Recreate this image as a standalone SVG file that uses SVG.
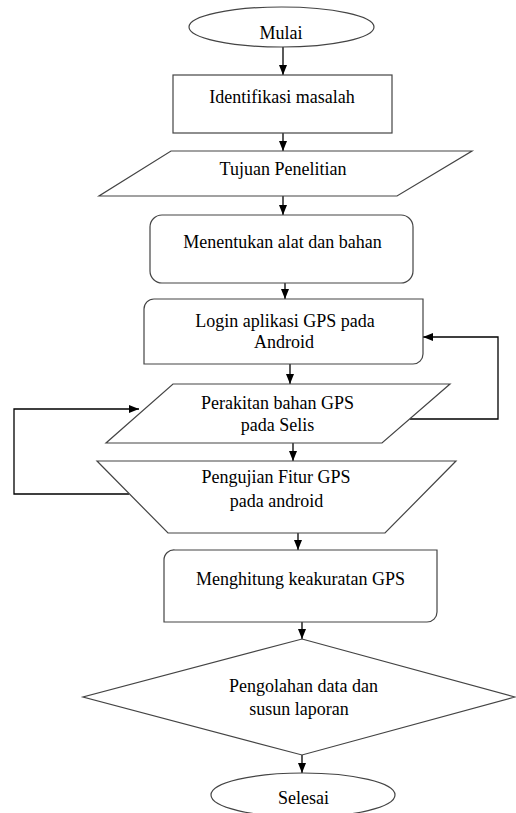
<svg xmlns="http://www.w3.org/2000/svg" width="516" height="813" viewBox="0 0 516 813">
<style>
.s{fill:#fff;stroke:#444;stroke-width:1.2}
.t{font-family:"Liberation Serif","Times New Roman",serif;font-size:18px;fill:#000;text-anchor:middle}
.c{fill:none;stroke:#000;stroke-width:1.3}
</style>
<defs>
<marker id="ah" markerUnits="userSpaceOnUse" markerWidth="10" markerHeight="10" viewBox="0 0 10 10" refX="10" refY="5" orient="auto">
<path d="M0,1 L10,5 L0,9 Z" fill="#000"/>
</marker>
</defs>
<rect width="516" height="813" fill="#fff"/>
<g id="connectors">
<line class="c" x1="283" y1="47" x2="283" y2="75" marker-end="url(#ah)"/>
<line class="c" x1="283" y1="133" x2="283" y2="151" marker-end="url(#ah)"/>
<line class="c" x1="283" y1="196" x2="283" y2="215" marker-end="url(#ah)"/>
<line class="c" x1="285" y1="283" x2="285" y2="299" marker-end="url(#ah)"/>
<line class="c" x1="290" y1="364" x2="290" y2="384" marker-end="url(#ah)"/>
<line class="c" x1="293" y1="443" x2="293" y2="461" marker-end="url(#ah)"/>
<line class="c" x1="298" y1="533" x2="298" y2="550" marker-end="url(#ah)"/>
<line class="c" x1="302" y1="622" x2="302" y2="639" marker-end="url(#ah)"/>
<line class="c" x1="302" y1="755" x2="302" y2="773" marker-end="url(#ah)"/>
<polyline class="c" points="410,419 498,419 498,337 423,337" marker-end="url(#ah)"/>
<polyline class="c" points="129,494 14,494 14,409 139,409" marker-end="url(#ah)"/>
</g>
<g id="mulai">
<ellipse class="s" cx="281.5" cy="27" rx="92.5" ry="20"/>
<text class="t" x="281" y="39">Mulai</text>
</g>
<g id="identifikasi">
<rect class="s" x="173" y="75" width="219" height="58"/>
<text class="t" x="282" y="103">Identifikasi masalah</text>
</g>
<g id="tujuan">
<polygon class="s" points="171,151 472,151 397,196 99,196"/>
<text class="t" x="283" y="175">Tujuan Penelitian</text>
</g>
<g id="menentukan">
<rect class="s" x="150" y="215" width="263" height="68" rx="12"/>
<text class="t" x="282.5" y="248">Menentukan alat dan bahan</text>
</g>
<g id="login">
<path class="s" d="M154,299 H423 V354 A10,10 0 0 1 413,364 H144 V309 A10,10 0 0 1 154,299 Z"/>
<text class="t" x="285" y="327">Login aplikasi GPS pada</text>
<text class="t" x="284" y="348">Android</text>
</g>
<g id="perakitan">
<polygon class="s" points="173,384 450,384 382,443 106,443"/>
<text class="t" x="277.5" y="409">Perakitan bahan GPS</text>
<text class="t" x="277.5" y="431">pada Selis</text>
</g>
<g id="pengujian">
<polygon class="s" points="97,461 456,461 385,533 168,533"/>
<text class="t" x="276" y="483">Pengujian Fitur GPS</text>
<text class="t" x="276.5" y="507">pada android</text>
</g>
<g id="menghitung">
<path class="s" d="M175,550 H437 V612 A10,10 0 0 1 427,622 H164 V560 A10,10 0 0 1 175,550 Z"/>
<text class="t" x="300.5" y="585">Menghitung keakuratan GPS</text>
</g>
<g id="pengolahan">
<polygon class="s" points="302,639 515,697 302,755 83,697"/>
<text class="t" x="303.5" y="692">Pengolahan data dan</text>
<text class="t" x="299" y="715">susun laporan</text>
</g>
<g id="selesai">
<ellipse class="s" cx="303" cy="795" rx="92" ry="22"/>
<text class="t" x="303.5" y="804">Selesai</text>
</g>
</svg>
